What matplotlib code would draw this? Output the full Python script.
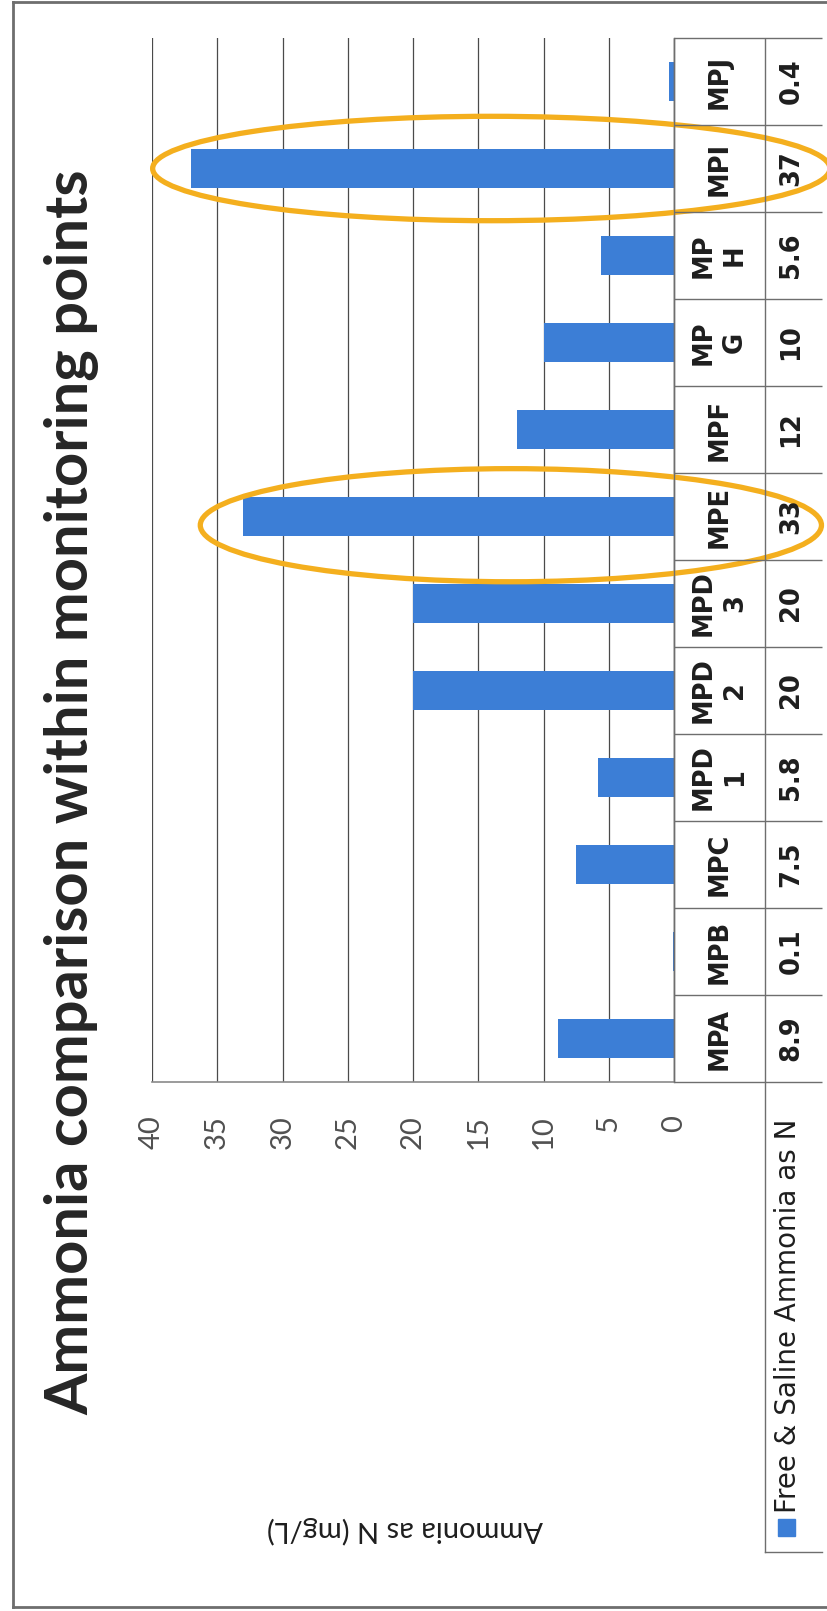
import matplotlib
matplotlib.use("Agg")
import matplotlib.pyplot as plt
from matplotlib.patches import Ellipse, Rectangle
from matplotlib.lines import Line2D

# ---- data -------------------------------------------------------------
categories = ["MPA", "MPB", "MPC", "MPD\n1", "MPD\n2", "MPD\n3",
              "MPE", "MPF", "MP\nG", "MP\nH", "MPI", "MPJ"]
values = [8.9, 0.1, 7.5, 5.8, 20, 20, 33, 12, 10, 5.6, 37, 0.4]
value_labels = ["8.9", "0.1", "7.5", "5.8", "20", "20", "33", "12", "10", "5.6", "37", "0.4"]
ticks = [0, 5, 10, 15, 20, 25, 30, 35, 40]
tick_labels = ["0", "5", "10", "15", "20", "25", "30", "35", "40"]
series_name = "Free & Saline Ammonia as N"
title = "Ammonia comparison within monitoring points"
axis_title = "Ammonia as N (mg/L)"
highlighted = ["MPE", "MPI"]

# ---- style ------------------------------------------------------------
BAR = "#3C7ED6"
GRID = "#4a4a4a"
LINE = "#6e6e6e"
TEXT = "#1e1e1e"
RING = "#F4AF1E"

W, H = 827, 1611
fig = plt.figure(figsize=(W / 100, H / 100), dpi=100)
fig.patch.set_facecolor("white")


def fx(px):
    return px / W


def fy(py):
    return 1 - py / H


def fig_line(xs, ys, **kw):
    fig.add_artist(Line2D([fx(x) for x in xs], [fy(y) for y in ys],
                          transform=fig.transFigure, **kw))


# ---- plot area (value axis runs right-to-left, categories bottom-to-top)
plot_l, plot_r, plot_t, plot_b = 152, 674, 38, 1082
ax = fig.add_axes([fx(plot_l), fy(plot_b), (plot_r - plot_l) / W, (plot_b - plot_t) / H])
pos = list(range(len(categories)))
ax.barh(pos, values, height=0.45, color=BAR, zorder=2)
ax.set_xlim(40, 0)
ax.set_ylim(-0.5, len(categories) - 0.5)
ax.set_xticks(ticks)
ax.set_xticklabels(tick_labels, rotation=90, fontsize=21, family="Lato",
                   color="#505050")
ax.tick_params(axis="x", length=0, pad=24)
ax.set_yticks([])
ax.grid(axis="x", color=GRID, lw=0.9, zorder=0)
ax.set_axisbelow(True)
for side in ("top", "left"):
    ax.spines[side].set_visible(False)
ax.spines["bottom"].set_color("#8a8a8a")
ax.spines["bottom"].set_linewidth(1.2)
ax.spines["right"].set_color(LINE)
ax.spines["right"].set_linewidth(1.0)

# highlight rings around selected bars
ring_specs = {"MPI": (14.0, 0.0, 51.9, 1.2), "MPE": (12.5, -0.1, 47.6, 1.3)}
for name in highlighted:
    i = categories.index(name)
    cx, dy, wv, hv = ring_specs[name]
    ax.add_patch(Ellipse((cx, i + dy), wv, hv, fill=False, ec=RING, lw=3.8,
                         clip_on=False, zorder=5))

# ---- data table -------------------------------------------------------
tab_r = 822
tab = fig.add_axes([fx(plot_r), fy(plot_b), (tab_r - plot_r) / W, (plot_b - plot_t) / H],
                   sharey=ax)
tab.set_xlim(0, tab_r - plot_r)
tab.axis("off")
div = 91
n = len(categories)
tab.hlines([k - 0.5 for k in range(n + 1)], 0, tab_r - plot_r, color=LINE, lw=1.0,
           clip_on=False)
tab.vlines([0, div], -0.5, n - 0.5, color=LINE, lw=1.0, clip_on=False)
for i, (c, v) in enumerate(zip(categories, value_labels)):
    tab.text(div / 2, i, c, rotation=90, ha="center", va="center",
             multialignment="center", fontsize=18.5, fontweight="bold",
             color=TEXT, linespacing=1.25)
    tab.text((div + tab_r - plot_r) / 2 - 2, i, v, rotation=90, ha="center",
             va="center", fontsize=18.5, fontweight="bold", color=TEXT)

# legend cell beneath the value row
leg_x = plot_r + div
fig_line([leg_x, leg_x], [plot_b, 1552], color=LINE, lw=1.0)
fig_line([leg_x, tab_r], [1552, 1552], color=LINE, lw=1.0)
fig.add_artist(Rectangle((fx(778), fy(1536)), 17 / W, 17 / H, color=BAR,
                         transform=fig.transFigure))
fig.text(fx(788), fy(1513), series_name, rotation=90, ha="center", va="bottom",
         fontsize=20, family="DejaVu Sans", color=TEXT)

# ---- titles -----------------------------------------------------------
t = fig.text(fx(72), fy(792), title, rotation=90, ha="center", va="center",
             fontsize=40, family="Lato", fontweight="bold", color="#262626")
fig.canvas.draw()
ext = t.get_window_extent()
t.set_fontsize(40 * 1245 / ext.height)

fig.text(fx(405), fy(1530), axis_title, rotation=180, ha="center", va="center",
         fontsize=21, family="Lato", color=TEXT)

# ---- outer frame ------------------------------------------------------
fig_line([13, 13], [2, 1607], color=LINE, lw=2.0)
fig_line([13, 827], [2, 2], color=LINE, lw=2.0)
fig_line([13, 827], [1607, 1607], color=LINE, lw=2.0)

fig.savefig("out.png", dpi=100, facecolor="white")
